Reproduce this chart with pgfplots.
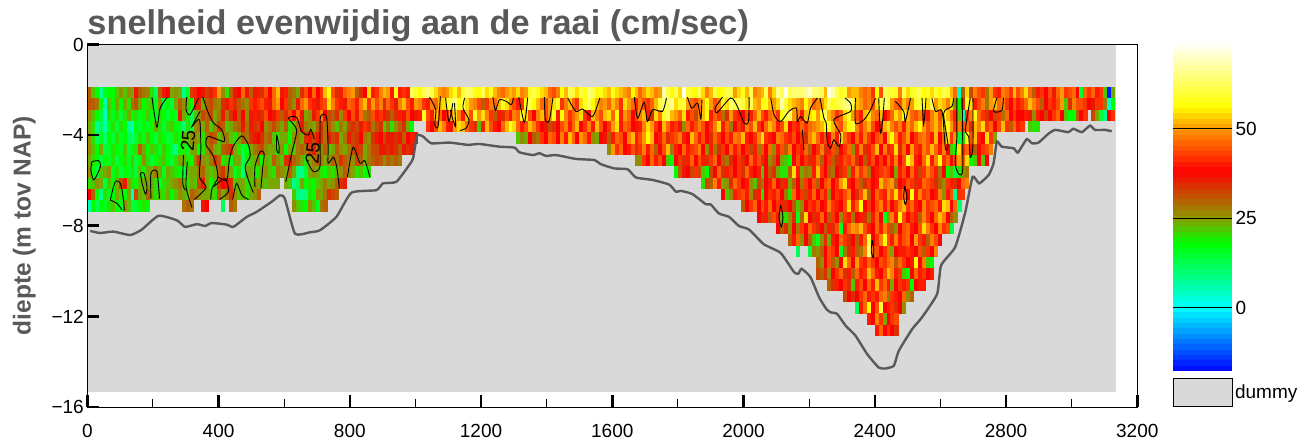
\documentclass[border=0pt]{standalone}
\usepackage{pgfplots}
\pgfplotsset{compat=1.18}
\usepackage{fontspec}
\setmainfont{Liberation Sans}
\definecolor{tgrey}{gray}{0.35}
\definecolor{bg}{gray}{0.85}
\pgfdeclareplotmark{cell}{\pgfpathrectangle{\pgfpoint{-2.07pt}{-5.72pt}}{\pgfpoint{4.14pt}{11.44pt}}\pgfusepathqfill}
\pgfdeclareplotmark{cbar}{\pgfpathrectangle{\pgfpoint{-29.5pt}{-2.75pt}}{\pgfpoint{59pt}{5.5pt}}\pgfusepathqfill}
\pgfplotsset{
 colormap={vel}{rgb(0pt)=(0,0,1);rgb(18pt)=(0,1,1);rgb(27pt)=(0,1,.5);rgb(36pt)=(0,1,0);rgb(43pt)=(.55,.6,0);rgb(56pt)=(1,0,0);rgb(68pt)=(1,.6,0);rgb(74pt)=(1,1,0);rgb(91pt)=(1,1,.95)},
 cell/.style={scatter,only marks,mark=cell,scatter/use mapped color={draw=none,fill=mapped color},point meta=explicit,forget plot},
 /pgfplots/table/cr/.style 2 args={x expr={(#2+\coordindex)*12+6},y expr={-2.125-0.5*#1},meta index=0,header=false},
 cont/.style={black,line width=0.9pt,smooth,tension=0.45,forget plot,no markers},
}
\newcommand\Q[2]{\addplot[cell] table[cr={#1}{#2}]}
\newcommand\K{\addplot[cont] coordinates}
\begin{document}
\begin{tikzpicture}
\path[use as bounding box] (0,0) rectangle (1314pt,443pt);
\begin{axis}[
 hide axis,
 at={(87.3pt,36pt)},anchor=south west,scale only axis,width=1050pt,height=362.5pt,
 xmin=0,xmax=3200,ymin=-16,ymax=0,
 point meta min=-18,point meta max=73,
]
\addplot[fill=bg,draw=none,forget plot] coordinates {(0,0)(3135,0)(3135,-15.32)(0,-15.32)} --cycle;
\Q{0}{0}{
30
22
18
8
16
18
18
22
26
22
26
24
36
30
28
27
20
12
30
36
38
24
26
24
8
16
33
40
38
36
33
35
42
50
26
20
30
36
38
46
36
30
};
\Q{0}{42}{
36
40
34
44
38
46
52
36
40
30
28
24
34
44
38
46
38
42
52
56
44
34
40
46
48
50
30
34
38
54
40
42
48
52
50
40
58
40
42
40
62
60
};
\Q{0}{84}{
56
62
64
62
54
50
48
50
54
58
52
60
64
62
58
56
62
54
58
52
48
46
50
52
50
54
48
50
58
62
58
54
52
46
44
48
56
52
62
60
54
};
\Q{0}{125}{
60
58
64
62
56
58
54
52
58
54
52
50
48
56
52
46
50
54
52
48
50
68
62
56
62
54
72
60
58
56
62
54
48
52
60
56
58
62
60
50
54
};
\Q{0}{166}{
58
52
62
48
50
52
62
48
54
66
62
72
62
64
64
64
66
70
64
64
62
52
72
68
62
58
60
50
52
52
48
46
48
42
56
44
62
60
60
58
48
62
54
58
60
62
56
58
};
\Q{0}{214}{
54
60
56
62
60
52
46
4
30
54
32
48
44
42
28
50
42
40
48
46
42
52
44
48
54
46
30
40
42
38
44
36
46
50
42
44
46
38
14
46
42
46
40
42
22
-16
24
};
\Q{1}{0}{
31
30
28
18
6
22
18
24
18
24
20
28
31
24
18
20
22
16
26
14
18
14
24
30
26
22
18
36
34
24
30
32
28
26
34
36
42
34
30
28
26
42
};
\Q{1}{42}{
40
42
44
40
36
46
50
38
42
30
26
36
46
50
42
40
36
42
44
54
48
42
40
36
46
44
40
48
52
42
50
44
48
34
46
42
36
48
52
44
40
50
};
\Q{1}{84}{
48
42
40
48
46
52
54
58
62
64
56
62
54
50
48
44
30
42
48
46
52
58
54
48
44
40
42
56
62
56
52
46
44
50
54
58
42
48
52
46
42
};
\Q{1}{125}{
54
58
62
56
52
48
50
46
52
48
42
54
50
46
40
48
44
42
46
52
60
64
62
66
54
58
60
50
46
44
48
52
56
50
44
48
58
54
64
60
62
};
\Q{1}{166}{
60
54
62
52
50
56
58
52
50
54
68
60
54
52
50
48
56
52
46
48
50
54
62
58
60
62
64
66
60
52
50
46
48
44
54
62
64
60
50
46
44
52
48
50
58
60
56
54
};
\Q{1}{214}{
62
50
54
52
48
54
26
18
34
58
54
40
44
48
28
50
52
46
48
42
38
44
40
42
46
52
48
44
30
38
42
40
44
50
22
34
48
44
44
42
38
36
42
42
28
4
18
};
\Q{2}{0}{
26
22
18
14
4
20
16
20
14
20
24
18
20
16
18
22
18
16
20
18
14
18
16
36
24
20
12
22
26
32
30
32
24
28
36
28
34
38
30
38
26
36
};
\Q{2}{42}{
40
36
34
44
38
36
42
30
34
44
38
46
36
24
26
36
42
48
38
32
30
34
26
42
38
44
36
46
28
30
44
40
42
36
34
30
34
40
36
44
38
36
};
\Q{2}{84}{
40
58
44
40
52
46
38
42
50
54
48
40
52
44
58
50
54
48
42
30
40
34
44
40
48
46
58
54
44
38
48
52
44
50
58
40
56
48
42
46
50
};
\Q{2}{125}{
54
42
38
52
48
44
52
54
46
56
40
50
46
38
44
48
52
40
34
54
48
58
62
52
50
46
54
40
44
32
48
52
56
40
46
42
28
34
50
42
40
};
\Q{2}{166}{
38
44
40
46
52
44
40
46
48
42
56
60
62
50
48
40
52
54
56
50
58
62
52
48
42
46
54
58
50
44
40
52
54
48
46
52
38
42
46
54
50
56
52
46
44
48
42
40
};
\Q{2}{214}{
48
52
44
56
52
46
40
22
6
42
48
58
46
42
34
38
32
42
28
46
38
42
38
38
40
36
26
40
38
32
38
42
46
38
22
18
18
30
38
42
};
\Q{2}{255}{
32
24
14
8
};
\Q{2}{259}{
38
42
};
\Q{3}{0}{
24
20
8
12
6
16
20
14
20
18
8
4
18
14
18
16
18
24
20
14
20
22
18
16
10
20
14
26
28
24
30
22
26
33
30
22
24
28
30
36
28
36
};
\Q{3}{42}{
34
32
38
26
28
32
28
24
30
20
22
28
36
28
26
24
30
34
28
30
26
22
28
24
32
34
32
36
42
34
28
32
34
22
28
20
26
30
34
24
18
};
\Q{3}{86}{
42
38
44
52
48
40
36
50
54
52
46
42
34
22
40
52
44
40
38
46
52
58
54
46
40
44
52
48
42
38
36
32
34
};
\Q{3}{119}{
38
44
48
40
46
52
38
42
48
40
52
44
38
42
50
54
40
46
44
38
36
40
48
54
50
42
38
52
46
40
42
36
26
46
40
44
48
};
\Q{3}{156}{
44
38
42
48
54
40
46
28
38
42
36
48
44
52
42
38
46
52
48
40
44
54
38
42
40
46
42
46
48
50
52
56
58
52
46
44
52
56
60
48
42
};
\Q{3}{197}{
48
52
44
38
42
52
54
48
44
48
40
50
46
52
56
50
44
48
52
46
54
58
50
42
48
44
46
34
52
48
54
42
46
38
44
52
42
30
46
40
42
};
\Q{3}{239}{
22
20
20
};
\Q{4}{0}{
26
20
12
16
10
18
14
20
16
18
12
10
14
20
16
22
18
14
20
18
14
16
20
18
24
22
26
26
24
20
28
32
30
22
26
28
22
20
24
30
28
34
};
\Q{4}{42}{
36
38
34
28
30
22
20
24
24
18
26
28
24
34
36
32
36
34
28
36
32
34
24
28
36
32
34
38
28
26
34
36
38
32
36
36
34
36
30
38
40
36
};
\Q{4}{109}{
22
26
24
38
30
28
42
38
46
44
38
48
40
52
46
38
50
46
40
26
24
38
};
\Q{4}{131}{
36
30
40
46
44
38
48
52
40
44
50
56
52
38
40
46
34
42
44
48
40
38
52
46
};
\Q{4}{155}{
40
44
38
34
46
42
38
44
40
48
46
52
40
38
42
48
54
42
40
38
48
46
42
40
44
};
\Q{4}{180}{
38
42
34
48
52
46
40
44
38
48
40
54
46
42
38
46
40
48
42
38
44
46
38
52
56
48
40
44
50
38
42
46
};
\Q{4}{212}{
48
44
40
52
38
46
54
42
50
14
20
58
44
52
40
38
54
42
24
};
\Q{5}{0}{
26
22
18
24
14
16
20
18
16
22
14
18
20
30
24
18
22
20
16
22
18
14
8
18
20
16
24
24
18
20
26
30
24
22
30
32
34
24
20
14
18
24
};
\Q{5}{42}{
28
30
32
26
24
24
20
26
18
24
22
28
30
28
32
36
28
26
30
22
24
30
26
24
28
32
34
32
24
28
32
32
36
36
34
36
34
30
36
34
36
};
\Q{5}{132}{
26
50
42
46
38
40
44
34
42
48
40
46
30
38
44
52
28
40
38
46
40
42
44
48
38
26
40
28
34
42
38
46
40
};
\Q{5}{165}{
44
38
42
32
40
28
44
38
46
26
40
44
30
48
38
42
40
46
30
38
42
48
34
40
44
30
38
42
46
26
40
48
34
};
\Q{5}{198}{
40
44
52
38
48
40
42
54
34
46
38
50
42
40
48
44
52
46
40
48
38
22
18
54
42
46
40
30
38
42
44
48
};
\Q{6}{0}{
24
20
18
14
18
16
20
14
18
20
16
22
14
18
26
20
14
18
20
22
18
14
20
24
24
20
18
28
34
26
24
28
34
30
20
22
16
24
24
12
20
22
};
\Q{6}{42}{
24
28
18
24
22
30
26
22
34
36
30
28
24
20
24
28
30
28
24
26
30
28
34
30
28
26
32
30
24
28
30
32
30
26
30
28
30
28
};
\Q{6}{139}{
26
26
42
38
46
40
44
38
22
18
38
42
34
40
46
38
44
40
34
42
46
38
30
28
34
38
42
34
38
46
40
44
};
\Q{6}{171}{
34
38
26
30
38
24
22
18
38
44
38
42
34
40
46
30
38
42
30
34
40
44
42
46
34
38
30
40
44
38
};
\Q{6}{201}{
42
38
46
40
48
38
44
58
52
40
38
46
54
40
48
56
42
46
38
44
50
46
54
18
22
38
22
38
};
\Q{7}{0}{
26
18
14
22
24
26
16
20
14
18
16
20
14
22
18
24
24
28
24
16
24
22
20
18
14
22
24
24
28
30
24
22
24
30
34
26
24
16
20
10
24
24
};
\Q{7}{42}{
18
20
24
26
22
20
28
26
24
30
24
10
8
14
24
26
24
20
18
22
20
24
26
30
26
24
20
22
18
20
};
\Q{7}{149}{
18
30
36
38
32
42
32
22
18
32
38
46
34
40
42
38
42
34
46
40
};
\Q{7}{169}{
38
40
22
38
30
34
24
20
20
30
54
40
24
28
26
40
52
42
38
30
28
38
34
42
26
40
48
42
46
28
38
40
};
\Q{7}{201}{
42
44
42
38
24
40
44
38
46
40
32
42
48
44
40
28
38
18
22
14
20
26
28
};
\Q{8}{0}{
20
22
26
24
14
22
18
24
32
36
24
20
18
22
24
24
24
20
16
20
22
24
26
28
24
20
24
22
32
36
24
18
22
34
38
36
34
22
24
24
20
22
};
\Q{8}{42}{
26
24
24
22
24
24
24
};
\Q{8}{50}{
24
22
8
12
24
18
20
18
22
24
28
24
26
30
34
36
};
\Q{8}{156}{
20
32
30
48
40
24
26
34
46
42
38
40
26
22
32
28
38
40
46
};
\Q{8}{175}{
38
34
40
24
30
38
28
42
38
44
30
38
44
46
38
42
50
54
40
38
44
30
34
42
38
40
52
46
48
};
\Q{8}{204}{
50
30
38
40
44
42
34
40
46
44
42
34
30
26
42
40
34
38
46
48
};
\Q{9}{0}{
38
30
18
8
20
16
18
24
20
18
24
4
32
24
22
30
24
20
22
20
24
18
22
26
24
22
30
28
26
24
24
22
20
30
24
28
34
26
22
24
20
24
26
30
};
\Q{9}{52}{
22
10
8
10
20
18
26
24
28
34
32
30
};
\Q{9}{161}{
38
22
26
40
42
44
40
26
34
40
20
38
42
40
44
};
\Q{9}{176}{
38
28
20
46
38
42
32
40
46
38
44
40
26
38
42
40
44
48
38
34
44
52
30
38
46
42
40
50
44
54
};
\Q{9}{206}{
42
46
38
56
40
48
42
44
38
40
48
26
40
44
8
42
42
};
\Q{10}{0}{
6
18
12
18
16
20
22
18
16
26
22
14
14
18
20
18
};
\Q{10}{24}{
28
30
28
};
\Q{10}{29}{
36
38
};
\Q{10}{34}{
12
};
\Q{10}{36}{
30
28
};
\Q{10}{52}{
26
22
20
18
26
22
16
28
30
};
\Q{10}{166}{
30
38
42
46
38
44
40
46
38
42
40
34
38
30
22
26
38
42
40
44
38
40
48
42
40
38
44
54
40
46
56
38
42
};
\Q{10}{199}{
38
44
48
40
46
38
42
48
52
42
46
40
38
48
42
44
46
40
54
52
38
46
10
};
\Q{11}{170}{
38
34
40
30
44
40
22
20
26
34
16
30
54
38
34
40
46
38
30
42
38
26
42
40
28
};
\Q{11}{195}{
38
40
34
28
40
46
38
16
24
48
40
56
44
38
42
40
30
48
42
38
46
52
48
38
30
26
};
\Q{12}{175}{
38
30
34
26
38
28
42
38
46
42
34
38
30
40
34
44
16
40
46
50
48
52
44
40
38
46
40
48
42
30
26
38
44
46
40
38
44
54
48
42
38
48
42
44
14
};
\Q{13}{178}{
30
40
46
26
38
30
22
16
26
34
24
40
38
46
42
34
38
30
40
46
60
38
42
48
56
44
40
48
40
44
46
38
50
42
40
30
48
44
38
};
\Q{14}{180}{
12
};
\Q{14}{183}{
14
28
26
30
38
44
42
38
16
28
34
40
30
28
48
64
46
44
38
42
46
24
38
40
40
42
40
38
44
30
42
38
48
};
\Q{15}{185}{
30
26
38
44
30
26
38
54
46
38
50
42
40
46
42
38
44
42
46
48
30
46
42
38
40
56
38
48
22
18
};
\Q{16}{185}{
32
30
34
26
38
42
46
34
40
30
46
40
42
52
46
40
38
44
52
48
40
42
22
18
38
46
40
42
38
40
};
\Q{17}{188}{
30
34
40
38
42
34
22
40
44
38
46
40
52
42
46
40
24
38
42
40
42
18
38
40
40
};
\Q{18}{192}{
32
38
34
38
42
46
40
42
40
46
48
28
42
40
38
46
26
30
};
\Q{19}{195}{
12
40
46
56
38
44
60
38
40
42
34
38
26
};
\Q{20}{198}{
40
38
48
42
24
38
42
44
};
\Q{21}{200}{
40
46
38
42
38
34
};
\end{axis}
\begin{axis}[
 at={(87.3pt,36pt)},anchor=south west,scale only axis,width=1050pt,height=362.5pt,
 xmin=0,xmax=3200,ymin=-16,ymax=0,
 xtick={0,400,800,1200,1600,2000,2400,2800,3200},
 xticklabels={0,400,800,1200,1600,2000,2400,2800,3200},
 ytick={-16,-12,-8,-4,0},
 yticklabels={−16,−12,−8,−4,0},
 minor xtick={200,600,1000,1400,1800,2200,2600,3000},
 tick align=inside,ticklabel style={font=\fontsize{19}{19}\selectfont},
 xticklabel style={yshift=-14pt},
 major tick length=12pt,minor tick length=8pt,
 every major tick/.style={black,line width=2.6pt},
 every minor tick/.style={black,line width=0.9pt},
 xtick pos=bottom,ytick pos=left,
 axis line style={black,line width=0.9pt},
 legend style={at={(1085.7pt,14.5pt)},anchor=west,draw=none,fill=none,inner sep=0pt,font=\fontsize{19}{19}\selectfont,legend cell align=left},
 title style={at={(0,1)},anchor=base west,inner sep=0pt,yshift=4pt,text=tgrey,font=\fontsize{34.3}{34.3}\selectfont\bfseries},
 title={snelheid evenwijdig aan de raai (cm/sec)},
 ylabel={diepte (m tov NAP)},
 ylabel style={at={(axis description cs:0,0.5)},anchor=center,text=tgrey,yshift=63pt,font=\fontsize{24.5}{24.5}\selectfont\bfseries},
]
\addlegendimage{legend image code/.code={\draw[black,line width=0.9pt,fill=bg] (0pt,-14pt) rectangle (59pt,14pt);}}
\addlegendentry{dummy}
\K{(197,-2.32)(212,-3.65)(222,-2.81)(244,-2.32)};
\K{(303,-2.32)(301,-2.88)(313,-3.10)(339,-2.36)};
\K{(352,-2.32)(369,-3.03)(385,-3.47)(410,-3.77)(417,-4.28)(369,-4.06)(362,-4.43)(385,-4.95)(398,-5.84)(380,-6.35)(376,-6.84)};
\K{(344,-2.95)(319,-3.62)(342,-3.32)(346,-4.65)(342,-5.84)(362,-6.31)(326,-6.84)};
\K{(293,-4.88)(291,-6.13)(299,-6.43)};
\K{(305,-5.17)(301,-6.28)(319,-7.2)};
\K{(14,-5.17)(35,-5.13)(40,-5.39)(20,-5.98)(11,-5.54)(14,-5.17)};
\K{(70,-6.87)(85,-6.06)(101,-6.13)(109,-6.72)(113,-7.31)};
\K{(70,-6.87)(91,-7.02)(106,-7.31)};
\K{(162,-5.69)(172,-5.66)(182,-6.28)(177,-6.6)(167,-6.13)(162,-5.69)};
\K{(194,-6.8)(194,-5.69)(212,-5.61)(220,-6.8)};
\K{(398,-5.84)(425,-5.98)(433,-5.1)(445,-4.48)(471,-4.03)(491,-4.43)(496,-4.95)(481,-5.39)(491,-5.98)(506,-6.54)};
\K{(385,-6.28)(420,-5.91)(430,-6.5)(403,-6.84)};
\K{(443,-6.84)(455,-6.13)(471,-6.65)(491,-6.84)};
\K{(511,-6.28)(511,-5.39)(527,-4.73)(539,-4.8)(535,-5.39)(529,-6.35)};
\K{(577,-3.99)(584,-4.43)(584,-4.8)(577,-4.65)(577,-3.99)};
\K{(605,-6.06)(623,-4.8)(638,-3.77)(613,-3.25)(638,-3.22)(653,-3.84)(674,-3.99)(681,-3.74)(692,-4.18)};
\K{(668,-5.1)(689,-5.61)(709,-5.39)(709,-4.06)(711,-3.18)(729,-3.18)(734,-4.51)(734,-5.24)(750,-4.98)(760,-5.39)(768,-6.35)};
\K{(793,-5.84)(810,-4.54)(831,-5.24)(846,-5.13)(861,-5.84)};
\K{(1043,-2.32)(1062,-2.88)(1059,-3.55)(1069,-3.62)(1076,-2.29)};
\K{(1092,-2.36)(1102,-3.4)(1114,-2.59)};
\K{(1106,-2.88)(1122,-3.62)(1119,-2.59)};
\K{(1150,-2.36)(1145,-2.81)(1163,-3.32)(1155,-3.69)(1135,-3.8)};
\K{(1236,-2.32)(1244,-2.91)(1256,-2.44)(1277,-2.51)(1292,-2.66)(1299,-2.36)};
\K{(1315,-2.32)(1332,-3.44)(1342,-2.36)};
\K{(1393,-2.32)(1396,-3.32)(1408,-3.35)(1419,-2.36)};
\K{(1464,-2.36)(1489,-2.95)(1510,-2.85)(1540,-3.18)(1562,-2.36)};
\K{(1667,-2.32)(1677,-3.25)(1697,-2.56)(1707,-3.4)(1723,-2.88)(1753,-2.95)(1765,-2.36)};
\K{(1829,-2.32)(1842,-2.81)(1860,-2.59)(1870,-3.29)(1873,-2.44)};
\K{(1936,-2.32)(1913,-2.81)(1920,-3)(1961,-2.36)(1981,-2.73)(2002,-3.47)(2015,-3.4)(2017,-2.32)};
\K{(2083,-2.36)(2093,-3.1)(2113,-3.4)(2138,-2.95)(2161,-2.81)(2164,-3.4)(2174,-3.18)(2194,-3.47)(2204,-2.81)(2225,-2.36)};
\K{(2233,-2.36)(2245,-3.25)(2252,-3.47)(2255,-4.28)(2265,-4.58)(2275,-4.21)(2291,-4.51)(2296,-3.99)(2275,-3.32)(2326,-2.95)(2326,-2.59)(2309,-2.36)};
\K{(2341,-2.36)(2341,-3.47)(2367,-3.32)(2387,-2.88)(2402,-2.36)};
\K{(2412,-2.36)(2417,-3.92)(2424,-3.32)(2429,-2.36)};
\K{(2463,-2.51)(2488,-2.95)(2493,-3.4)(2509,-2.36)};
\K{(2544,-2.36)(2549,-3.55)(2556,-2.36)};
\K{(2574,-2.36)(2585,-2.95)(2605,-2.95)(2615,-4.58)(2623,-4.43)(2610,-3.03)(2635,-2.73)(2640,-2.36)};
\K{(2650,-2.36)(2650,-4.06)(2645,-5.24)(2656,-5.72)(2668,-5.47)(2666,-2.36)};
\K{(2691,-2.36)(2676,-3.77)(2686,-4.06)(2691,-4.98)(2699,-4.51)(2699,-2.36)};
\K{(2772,-2.36)(2762,-2.95)(2787,-2.91)(2792,-2.36)};
\K{(2179,-3.77)(2184,-4.65)};
\K{(2491,-6.25)(2488,-6.72)(2493,-7.06)(2498,-6.72)(2491,-6.25)};
\K{(2113,-7.09)(2108,-7.61)(2115,-8.05)(2120,-7.61)(2113,-7.09)};
\K{(2392,-8.64)(2389,-9.09)(2395,-9.41)(2397,-9.01)(2392,-8.64)};
\addplot[tgrey,line width=2.4pt,forget plot,no markers,smooth,tension=0.3] coordinates {
(9,-8.23)(39,-8.32)(80,-8.26)(131,-8.41)(166,-8.17)(217,-7.56)(273,-7.76)(298,-8.05)(334,-7.93)(359,-8.01)(379,-7.88)(425,-7.95)(445,-8.05)(486,-7.61)(516,-7.39)(562,-6.94)(587,-6.66)(602,-6.80)(633,-8.35)(678,-8.29)(709,-8.20)(759,-7.61)(805,-6.54)(881,-6.43)(901,-6.13)(942,-6.06)(982,-5.30)(993,-5.02)(1005,-4.02)(1023,-4.06)(1048,-4.36)(1104,-4.33)(1160,-4.43)(1195,-4.39)(1256,-4.51)(1302,-4.55)(1317,-4.76)(1358,-4.88)(1378,-4.80)(1398,-4.92)(1429,-4.88)(1489,-5.05)(1545,-5.10)(1566,-5.29)(1606,-5.47)(1647,-5.51)(1672,-5.87)(1723,-5.98)(1773,-6.18)(1794,-6.50)(1809,-6.46)(1844,-6.60)(1885,-7.05)(1900,-7.06)(1925,-7.46)(1956,-7.61)(1986,-8.01)(2017,-8.17)(2062,-8.82)(2113,-9.20)(2154,-10.05)(2167,-10.12)(2177,-9.90)(2204,-10.27)(2230,-11.15)(2252,-11.67)(2265,-11.82)(2285,-11.89)(2311,-12.41)(2341,-12.85)(2377,-13.67)(2412,-14.26)(2432,-14.30)(2458,-14.18)(2473,-13.52)(2514,-12.56)(2544,-12.04)(2590,-11.01)(2602,-9.75)(2645,-8.94)(2676,-7.39)(2698,-5.84)(2718,-6.13)(2747,-5.76)(2762,-5.24)(2772,-4.28)(2787,-4.51)(2823,-4.58)(2836,-4.77)(2863,-4.18)(2879,-4.36)(2899,-4.33)(2929,-3.94)(2950,-3.77)(2990,-3.87)(3005,-3.72)(3031,-3.87)(3056,-3.58)(3071,-3.77)(3102,-3.77)(3122,-3.83)};
\node[rotate=85,font=\fontsize{19}{19}\selectfont,inner sep=0pt] at (axis cs:307,-4.25) {25};
\node[rotate=85,font=\fontsize{19}{19}\selectfont,inner sep=0pt] at (axis cs:687,-4.79) {25};
\end{axis}
\begin{axis}[
 hide axis,
 at={(1173pt,72pt)},anchor=south west,scale only axis,width=59pt,height=326.5pt,
 xmin=0,xmax=1,ymin=-17.7,ymax=73.5,
 point meta min=-18,point meta max=73,
]
\addplot[scatter,only marks,mark=cbar,scatter/use mapped color={draw=none,fill=mapped color},point meta=y] table[header=false,x expr=0.5,y index=0] {
-17
-15.5
-14
-12.5
-11
-9.5
-8
-6.5
-5
-3.5
-2
-0.5
1
2.5
4
5.5
7
8.5
10
11.5
13
14.5
16
17.5
19
20.5
22
23.5
25
26.5
28
29.5
31
32.5
34
35.5
37
38.5
40
41.5
43
44.5
46
47.5
49
50.5
52
53.5
55
56.5
58
59.5
61
62.5
64
65.5
67
68.5
70
71.5
73
};
\end{axis}
\begin{axis}[
 at={(1173pt,72pt)},anchor=south west,scale only axis,width=59pt,height=326.5pt,
 xmin=0,xmax=1,ymin=-17.7,ymax=73.5,xtick=\empty,
 ytick={0,25,50},yticklabels={0,25,50},ytick pos=right,yticklabel pos=right,
 tick align=inside,major tick length=59pt,every major tick/.style={black,line width=0.9pt},
 ticklabel style={font=\fontsize{19}{19}\selectfont},
 axis line style={draw=none},
]
\end{axis}
\end{tikzpicture}
\end{document}
